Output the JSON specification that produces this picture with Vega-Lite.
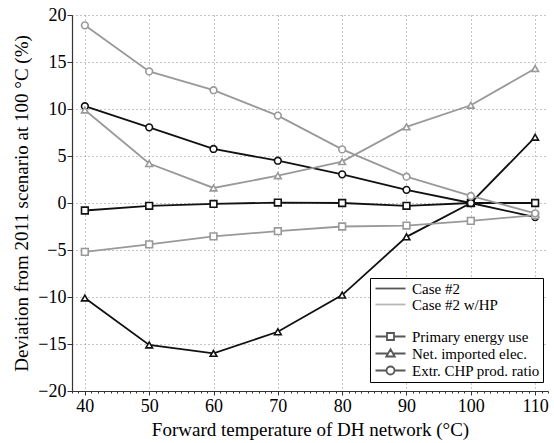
{
  "$schema": "https://vega.github.io/schema/vega-lite/v6.json",
  "width": 476,
  "height": 376,
  "autosize": "none",
  "padding": {"left": 72, "top": 15, "right": 6, "bottom": 52},
  "background": "white",
  "config": {
    "view": {"stroke": null},
    "axis": {
      "labelFont": "Liberation Serif, Times New Roman, DejaVu Serif, serif",
      "titleFont": "Liberation Serif, Times New Roman, DejaVu Serif, serif",
      "labelFontSize": 18,
      "titleFontSize": 19,
      "titleFontWeight": "normal",
      "labelColor": "black",
      "titleColor": "black",
      "domainColor": "#333333",
      "domainWidth": 1.2,
      "tickColor": "#333333",
      "gridColor": "#8a8a8a",
      "gridDash": [1, 3],
      "gridWidth": 1
    },
    "legend": {
      "labelFont": "Liberation Serif, Times New Roman, DejaVu Serif, serif",
      "labelFontSize": 15,
      "labelColor": "black"
    }
  },
  "data": {
    "values": [
      {"t": 40, "v": -0.8, "c": "Case #2", "m": "Primary energy use"},
      {"t": 50, "v": -0.3, "c": "Case #2", "m": "Primary energy use"},
      {"t": 60, "v": -0.1, "c": "Case #2", "m": "Primary energy use"},
      {"t": 70, "v": 0.05, "c": "Case #2", "m": "Primary energy use"},
      {"t": 80, "v": 0.0, "c": "Case #2", "m": "Primary energy use"},
      {"t": 90, "v": -0.3, "c": "Case #2", "m": "Primary energy use"},
      {"t": 100, "v": 0.0, "c": "Case #2", "m": "Primary energy use"},
      {"t": 110, "v": 0.0, "c": "Case #2", "m": "Primary energy use"},
      {"t": 40, "v": -10.1, "c": "Case #2", "m": "Net. imported elec."},
      {"t": 50, "v": -15.1, "c": "Case #2", "m": "Net. imported elec."},
      {"t": 60, "v": -16.0, "c": "Case #2", "m": "Net. imported elec."},
      {"t": 70, "v": -13.7, "c": "Case #2", "m": "Net. imported elec."},
      {"t": 80, "v": -9.8, "c": "Case #2", "m": "Net. imported elec."},
      {"t": 90, "v": -3.6, "c": "Case #2", "m": "Net. imported elec."},
      {"t": 100, "v": 0.0, "c": "Case #2", "m": "Net. imported elec."},
      {"t": 110, "v": 7.0, "c": "Case #2", "m": "Net. imported elec."},
      {"t": 40, "v": 10.3, "c": "Case #2", "m": "Extr. CHP prod. ratio"},
      {"t": 50, "v": 8.05, "c": "Case #2", "m": "Extr. CHP prod. ratio"},
      {"t": 60, "v": 5.75, "c": "Case #2", "m": "Extr. CHP prod. ratio"},
      {"t": 70, "v": 4.5, "c": "Case #2", "m": "Extr. CHP prod. ratio"},
      {"t": 80, "v": 3.05, "c": "Case #2", "m": "Extr. CHP prod. ratio"},
      {"t": 90, "v": 1.4, "c": "Case #2", "m": "Extr. CHP prod. ratio"},
      {"t": 100, "v": 0.0, "c": "Case #2", "m": "Extr. CHP prod. ratio"},
      {"t": 110, "v": -1.5, "c": "Case #2", "m": "Extr. CHP prod. ratio"},
      {"t": 40, "v": -5.2, "c": "Case #2 w/HP", "m": "Primary energy use"},
      {"t": 50, "v": -4.4, "c": "Case #2 w/HP", "m": "Primary energy use"},
      {"t": 60, "v": -3.55, "c": "Case #2 w/HP", "m": "Primary energy use"},
      {"t": 70, "v": -3.0, "c": "Case #2 w/HP", "m": "Primary energy use"},
      {"t": 80, "v": -2.5, "c": "Case #2 w/HP", "m": "Primary energy use"},
      {"t": 90, "v": -2.4, "c": "Case #2 w/HP", "m": "Primary energy use"},
      {"t": 100, "v": -1.9, "c": "Case #2 w/HP", "m": "Primary energy use"},
      {"t": 110, "v": -1.3, "c": "Case #2 w/HP", "m": "Primary energy use"},
      {"t": 40, "v": 9.9, "c": "Case #2 w/HP", "m": "Net. imported elec."},
      {"t": 50, "v": 4.2, "c": "Case #2 w/HP", "m": "Net. imported elec."},
      {"t": 60, "v": 1.6, "c": "Case #2 w/HP", "m": "Net. imported elec."},
      {"t": 70, "v": 2.9, "c": "Case #2 w/HP", "m": "Net. imported elec."},
      {"t": 80, "v": 4.4, "c": "Case #2 w/HP", "m": "Net. imported elec."},
      {"t": 90, "v": 8.1, "c": "Case #2 w/HP", "m": "Net. imported elec."},
      {"t": 100, "v": 10.4, "c": "Case #2 w/HP", "m": "Net. imported elec."},
      {"t": 110, "v": 14.3, "c": "Case #2 w/HP", "m": "Net. imported elec."},
      {"t": 40, "v": 18.9, "c": "Case #2 w/HP", "m": "Extr. CHP prod. ratio"},
      {"t": 50, "v": 14.0, "c": "Case #2 w/HP", "m": "Extr. CHP prod. ratio"},
      {"t": 60, "v": 12.0, "c": "Case #2 w/HP", "m": "Extr. CHP prod. ratio"},
      {"t": 70, "v": 9.3, "c": "Case #2 w/HP", "m": "Extr. CHP prod. ratio"},
      {"t": 80, "v": 5.7, "c": "Case #2 w/HP", "m": "Extr. CHP prod. ratio"},
      {"t": 90, "v": 2.8, "c": "Case #2 w/HP", "m": "Extr. CHP prod. ratio"},
      {"t": 100, "v": 0.75, "c": "Case #2 w/HP", "m": "Extr. CHP prod. ratio"},
      {"t": 110, "v": -1.1, "c": "Case #2 w/HP", "m": "Extr. CHP prod. ratio"}
    ]
  },
  "encoding": {
    "x": {
      "field": "t", "type": "quantitative",
      "scale": {"domain": [38, 112], "nice": false, "zero": false},
      "axis": {
        "title": "Forward temperature of DH network (°C)",
        "values": [38,39,40,41,42,43,44,45,46,47,48,49,50,51,52,53,54,55,56,57,58,59,60,61,62,63,64,65,66,67,68,69,70,71,72,73,74,75,76,77,78,79,80,81,82,83,84,85,86,87,88,89,90,91,92,93,94,95,96,97,98,99,100,101,102,103,104,105,106,107,108,109,110,111,112],
        "labelExpr": "datum.value % 10 === 0 ? datum.label : ''",
        "labelOverlap": false,
        "labelPadding": 2,
        "tickSize": {"condition": {"test": "datum.value % 10 === 0", "value": 4}, "value": 2},
        "gridOpacity": {"condition": {"test": "datum.value % 10 === 0", "value": 1}, "value": 0},
        "titlePadding": 5
      }
    },
    "y": {
      "field": "v", "type": "quantitative",
      "scale": {"domain": [-20, 20], "nice": false},
      "axis": {
        "title": "Deviation from 2011 scenario at 100 °C (%)",
        "values": [-20, -15, -10, -5, 0, 5, 10, 15, 20],
        "tickSize": 5,
        "labelPadding": 1,
        "titlePadding": 6
      }
    }
  },
  "layer": [
    {
      "mark": {"type": "line", "strokeWidth": 1.8},
      "encoding": {
        "color": {
          "field": "c", "type": "nominal",
          "scale": {"domain": ["Case #2", "Case #2 w/HP"], "range": ["#111111", "#999999"]},
          "legend": null
        },
        "detail": {"field": "m", "type": "nominal"}
      }
    },
    {
      "mark": {"type": "point", "filled": false, "fill": "white", "fillOpacity": 1, "opacity": 1, "strokeWidth": 1.6, "size": 45},
      "encoding": {
        "color": {
          "field": "c", "type": "nominal",
          "scale": {"domain": ["Case #2", "Case #2 w/HP"], "range": ["#111111", "#999999"]},
          "legend": null
        },
        "shape": {
          "field": "m", "type": "nominal",
          "scale": {"domain": ["Primary energy use", "Net. imported elec.", "Extr. CHP prod. ratio"], "range": ["square", "triangle-up", "circle"]},
          "legend": null
        }
      }
    },
    {
      "transform": [{"filter": "false"}],
      "mark": {"type": "point", "filled": false, "fill": "white", "strokeWidth": 1.6},
      "encoding": {
        "color": {
          "field": "lk", "type": "nominal",
          "scale": {
            "domain": ["Case #2", "Case #2 w/HP", "blank", "Primary energy use", "Net. imported elec.", "Extr. CHP prod. ratio"],
            "range": ["#111111", "#999999", "white", "#111111", "#111111", "#111111"]
          },
          "legend": {
            "title": null,
            "orient": "none",
            "legendX": 298,
            "legendY": 263,
            "strokeColor": "black",
            "fillColor": "white",
            "padding": 3,
            "symbolSize": 100,
            "symbolOffset": 10,
            "symbolStrokeWidth": 1.8,
            "symbolFillColor": "white",
            "labelOffset": 14,
            "rowPadding": 0,
            "labelExpr": "datum.label === 'blank' ? '' : datum.label"
          }
        },
        "shape": {
          "field": "lk", "type": "nominal",
          "scale": {
            "domain": ["Case #2", "Case #2 w/HP", "blank", "Primary energy use", "Net. imported elec.", "Extr. CHP prod. ratio"],
            "range": [
              "M-3,0H3",
              "M-3,0H3",
              "M-3,0H3",
              "M-3,0H-0.7M0.7,0H3M-0.7,-0.7H0.7V0.7H-0.7Z",
              "M-3,0H-0.49M0.49,0H3M0,-0.84L0.84,0.6L-0.84,0.6Z",
              "M-3,0H-0.8M0.8,0H3M0.8,0A0.8,0.8 0 1,1 -0.8,0A0.8,0.8 0 1,1 0.8,0Z"
            ]
          },
          "legend": {
            "title": null,
            "orient": "none",
            "legendX": 298,
            "legendY": 263,
            "strokeColor": "black",
            "fillColor": "white",
            "padding": 3,
            "symbolSize": 100,
            "symbolOffset": 10,
            "symbolStrokeWidth": 1.8,
            "symbolFillColor": "white",
            "labelOffset": 14,
            "rowPadding": 0,
            "labelExpr": "datum.label === 'blank' ? '' : datum.label"
          }
        }
      }
    }
  ],
  "resolve": {"scale": {"color": "independent", "shape": "independent"}}
}
